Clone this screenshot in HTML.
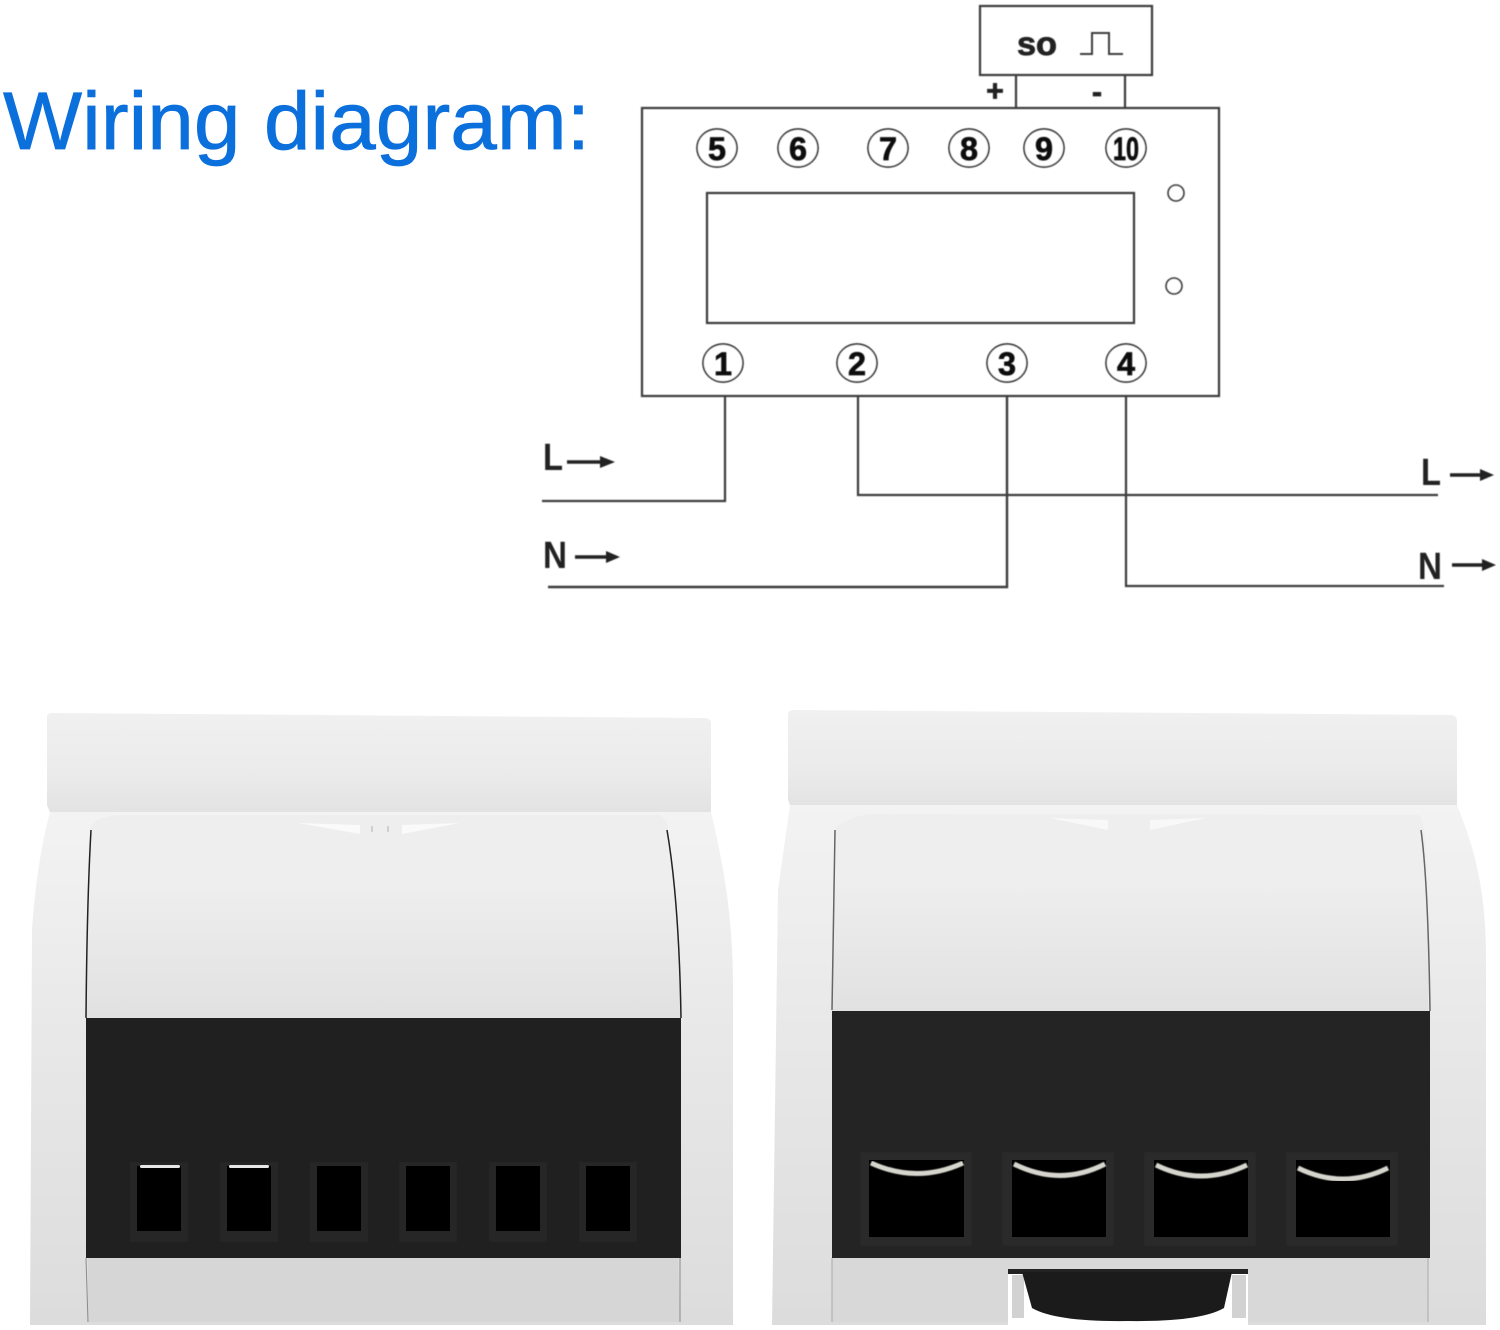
<!DOCTYPE html>
<html><head><meta charset="utf-8"><style>html,body{margin:0;padding:0;background:#fff}svg{display:block}</style></head>
<body>
<svg width="1500" height="1330" viewBox="0 0 1500 1330" xmlns="http://www.w3.org/2000/svg" font-family="'Liberation Sans',sans-serif">
<defs>
<linearGradient id="tab" x1="0" y1="0" x2="0" y2="1"><stop offset="0" stop-color="#f0f0f0"/><stop offset=".6" stop-color="#ebebeb"/><stop offset="1" stop-color="#e2e2e2"/></linearGradient>
<linearGradient id="cover" x1="0" y1="0" x2="0" y2="1"><stop offset="0" stop-color="#eeeeee"/><stop offset=".35" stop-color="#eeeeee"/><stop offset="1" stop-color="#e1e1e1"/></linearGradient>
<linearGradient id="body" x1="0" y1="0" x2="0" y2="1"><stop offset="0" stop-color="#f3f3f3"/><stop offset=".4" stop-color="#e9e9e9"/><stop offset="1" stop-color="#dcdcdc"/></linearGradient>
<filter id="b"><feGaussianBlur stdDeviation="0.6"/></filter>
</defs>
<rect width="1500" height="1330" fill="#fff"/>

<text x="3" y="149" font-size="82" fill="#0b6fdc" stroke="#0b6fdc" stroke-width=".7" textLength="587" lengthAdjust="spacingAndGlyphs">Wiring diagram:</text>

<g fill="none" stroke="#3c3c3c" stroke-width="2.2" filter="url(#b)">
<rect x="980" y="6" width="172" height="69"/>
<path d="M1016 75V108M1125 75V108"/>
<rect x="642" y="108" width="577" height="288"/>
<rect x="707" y="193" width="427" height="130"/>
<path d="M1080 54H1092V33H1109V54H1123" stroke-width="2"/>
<circle cx="1176" cy="193" r="8" stroke-width="1.6"/>
<circle cx="1174" cy="286" r="8" stroke-width="1.6"/>
<path d="M725 396V501H542"/>
<path d="M858 396V495H1438"/>
<path d="M1007 396V587H548" stroke-width="2.4"/>
<path d="M1126 396V586H1444"/>
</g>
<g fill="#222" stroke="#222" stroke-width=".8" font-weight="bold" text-anchor="middle" filter="url(#b)">
<text x="1037" y="55" font-size="33" textLength="40" lengthAdjust="spacingAndGlyphs">so</text>
<text x="995" y="101" font-size="30">+</text>
<text x="1097" y="102" font-size="30">-</text>
</g>
<g fill="#fff" stroke="#333" stroke-width="1.7" filter="url(#b)">
<ellipse cx="717" cy="148" rx="20" ry="19"/><ellipse cx="798" cy="148" rx="20" ry="19"/><ellipse cx="888" cy="148" rx="20" ry="19"/><ellipse cx="969" cy="148" rx="20" ry="19"/><ellipse cx="1044" cy="148" rx="20" ry="19"/><ellipse cx="1126" cy="148" rx="20" ry="19"/>
<ellipse cx="723" cy="363" rx="20" ry="19"/><ellipse cx="857" cy="363" rx="20" ry="19"/><ellipse cx="1007" cy="363" rx="20" ry="19"/><ellipse cx="1126" cy="363" rx="20" ry="19"/>
</g>
<g fill="#111" stroke="#111" stroke-width=".7" font-weight="bold" font-size="32" text-anchor="middle" filter="url(#b)">
<text x="717" y="160" textLength="18" lengthAdjust="spacingAndGlyphs">5</text><text x="798" y="160" textLength="18" lengthAdjust="spacingAndGlyphs">6</text><text x="888" y="160" textLength="18" lengthAdjust="spacingAndGlyphs">7</text><text x="969" y="160" textLength="18" lengthAdjust="spacingAndGlyphs">8</text><text x="1044" y="160" textLength="18" lengthAdjust="spacingAndGlyphs">9</text><text x="1126" y="160" textLength="26" lengthAdjust="spacingAndGlyphs">10</text>
<text x="723" y="375" textLength="18" lengthAdjust="spacingAndGlyphs">1</text><text x="857" y="375" textLength="18" lengthAdjust="spacingAndGlyphs">2</text><text x="1007" y="375" textLength="18" lengthAdjust="spacingAndGlyphs">3</text><text x="1126" y="375" textLength="18" lengthAdjust="spacingAndGlyphs">4</text>
</g>
<g fill="#222" font-size="38" font-weight="bold" filter="url(#b)">
<text x="543" y="470" textLength="20" lengthAdjust="spacingAndGlyphs">L</text>
<text x="543" y="568" textLength="24" lengthAdjust="spacingAndGlyphs">N</text>
<text x="1421" y="485" textLength="20" lengthAdjust="spacingAndGlyphs">L</text>
<text x="1418" y="579" textLength="24" lengthAdjust="spacingAndGlyphs">N</text>
</g>
<g fill="#222" stroke="#222" stroke-width="3.5" filter="url(#b)">
<path d="M567 462H606M575 557H610M1450 475H1484M1452 565H1486"/>
<path d="M600 456L615 462L600 468ZM606 551L620 557L606 563ZM1480 469L1494 475L1480 481ZM1482 559L1496 565L1482 571Z" stroke="none"/>
</g>

<!-- left device -->
<path d="M47 717Q47 713 52 713L706 718Q711 719 711 724V815H51L47 805Z" fill="url(#tab)"/>
<path d="M50 812H711C722 860 733 910 733 990V1325H30L32 930C36 870 45 830 50 812Z" fill="url(#body)"/>
<path d="M90 828Q96 816 120 815L660 815Q668 820 668 830Q680 900 681 1018H86Q86 900 90 828Z" fill="url(#cover)"/>
<path d="M91 830Q87 900 86 1018M667 830Q679 900 681 1018" stroke="#222" stroke-width="1.5" fill="none"/>
<path d="M298 823L360 834V825ZM460 823L402 834V825Z" fill="#fafafa"/>
<path d="M372 826V832M388 826V832" stroke="#bbb" stroke-width="1.2"/>
<rect x="86" y="1018" width="595" height="240" fill="#202020"/>
<path d="M88 1258H678L680 1322H88Z" fill="#d6d6d6"/>
<path d="M86 1258L88 1322M680 1258L680 1322" stroke="#8a8a8a" stroke-width="1" fill="none"/>
<g fill="#262626" filter="url(#b)">
<rect x="130" y="1162" width="58" height="80"/><rect x="220" y="1162" width="58" height="80"/><rect x="310" y="1162" width="58" height="80"/><rect x="399" y="1162" width="58" height="80"/><rect x="489" y="1162" width="58" height="80"/><rect x="579" y="1162" width="58" height="80"/>
</g>
<g fill="#000">
<rect x="137" y="1166" width="44" height="65"/><rect x="227" y="1166" width="44" height="65"/><rect x="317" y="1166" width="44" height="65"/><rect x="406" y="1166" width="44" height="65"/><rect x="496" y="1166" width="44" height="65"/><rect x="586" y="1166" width="44" height="65"/>
</g>
<rect x="140" y="1165" width="40" height="3" rx="1.5" fill="#e8e8e8"/>
<rect x="229" y="1165" width="40" height="3" rx="1.5" fill="#e8e8e8"/>

<!-- right device -->
<path d="M788 715Q788 710 794 710L1452 715Q1457 716 1457 722V810H792L788 800Z" fill="url(#tab)"/>
<path d="M790 805H1457C1475 850 1486 890 1486 960V1325H772L778 890Z" fill="url(#body)"/>
<path d="M835 830Q840 820 868 814L1420 815Q1425 825 1428 870V1011H832Q832 900 835 830Z" fill="url(#cover)"/>
<path d="M835 830L832 1010M1421 830Q1428 880 1430 1011" stroke="#666" stroke-width="1.5" fill="none"/>
<path d="M1050 818L1108 830V820ZM1206 818L1150 830V820Z" fill="#f8f8f8"/>
<rect x="832" y="1011" width="598" height="247" fill="#242424"/>
<path d="M832 1258H1428V1322H832Z" fill="#d8d8d8"/>
<path d="M832 1258V1322M1428 1258V1322" stroke="#aaa" stroke-width="1" fill="none"/>
<rect x="1008" y="1269" width="240" height="60" fill="#fff"/>
<rect x="1008" y="1269" width="240" height="5" fill="#222"/>
<path d="M1012 1275H1024V1318H1012ZM1232 1275H1246V1318H1232Z" fill="#d2d2d2"/>
<path d="M1022 1272H1232L1224 1308Q1200 1322 1128 1321Q1056 1322 1032 1308Z" fill="#1b1b1b"/>
<g fill="#292929" filter="url(#b)"><rect x="860" y="1152" width="112" height="94"/><rect x="1002" y="1152" width="112" height="94"/><rect x="1144" y="1152" width="112" height="94"/><rect x="1286" y="1152" width="112" height="94"/></g>
<g fill="#000"><rect x="869" y="1160" width="95" height="77"/><rect x="1012" y="1160" width="94" height="77"/><rect x="1154" y="1160" width="94" height="77"/><rect x="1296" y="1160" width="94" height="77"/></g>
<g fill="none" stroke="#d6d6ce" stroke-width="5" filter="url(#b)">
<path d="M871 1163Q917 1184 963 1163"/><path d="M1014 1164Q1060 1187 1105 1164"/><path d="M1156 1165Q1201 1187 1247 1165"/><path d="M1298 1168Q1343 1190 1388 1168"/>
</g>
</svg>
</body></html>
